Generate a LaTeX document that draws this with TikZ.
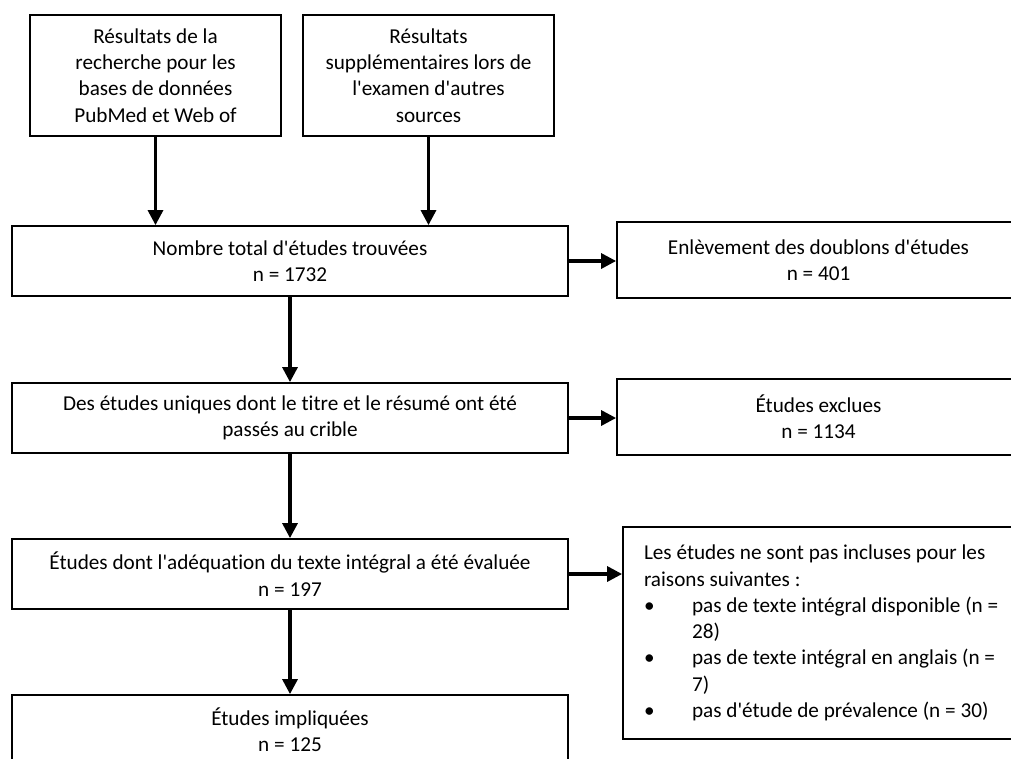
\documentclass[tikz,border=0pt]{standalone}
\usepackage{fontspec}
\setmainfont{Carlito}[Ligatures={TeXOff,NoCommon}]
\usetikzlibrary{arrows.meta}
\newcommand{\reason}[1]{\makebox[48pt][l]{\textbullet}#1}
\newcommand{\wrap}[1]{\hspace*{48pt}#1}

\begin{document}
\begin{tikzpicture}
[x=1pt,y=-1pt,
box/.style={draw,line width=1.8pt,align=center,inner sep=0pt,
  font=\fontsize{21.2}{26.3}\selectfont},
source/.style={box,minimum width=251,minimum height=121},
stage/.style={box,minimum width=556,minimum height=70},
removed/.style={box,minimum width=403,minimum height=76},
flow/.style={line width=3.2pt,-{Triangle[length=15pt,width=15pt]}}]

\useasboundingbox (0,0) rectangle (1011,758);
\clip (0,0) rectangle (1011,758);

\draw (155.5,75.5) node (search) [source]
  {R\'esultats de la\\recherche pour les\\bases de donn\'ees\\PubMed et Web of};
\draw (428.5,75.5) node (others) [source]
  {R\'esultats\\suppl\'ementaires lors de\\l'examen d'autres\\sources};

\draw (290,261) node (total) [stage]
  {Nombre total d'\'etudes trouv\'ees\\n = 1732};
\draw (818.5,260) node (doublons) [removed]
  {Enl\`evement des doublons d'\'etudes\\n = 401};

\draw (290,418) node (unique) [stage]
  {Des \'etudes uniques dont le titre et le r\'esum\'e ont \'et\'e\\pass\'es au crible};
\draw (818.5,417) node (exclues) [removed]
  {\'Etudes exclues\\n = 1134};

\draw (290,574) node (fulltext) [stage]
  {\'Etudes dont l'ad\'equation du texte int\'egral a \'et\'e \'evalu\'ee\\n = 197};
\draw (829,633) node (raisons) [box,align=flush left,text width=370,
    inner xsep=21pt,minimum height=212]
  {Les \'etudes ne sont pas incluses pour les\\
   raisons suivantes :\\
   \reason{pas de texte int\'egral disponible (n =}\\
   \wrap{28)}\\
   \reason{pas de texte int\'egral en anglais (n =}\\
   \wrap{7)}\\
   \reason{pas d'\'etude de pr\'evalence (n = 30)}};

\draw (290,730) node (impl) [stage]
  {\'Etudes impliqu\'ees\\n = 125};

% arrows
\draw [flow] (search) -- (search |- total.north);
\draw [flow] (others) -- (others |- total.north);
\draw [flow] (total) -- (unique);
\draw [flow] (unique) -- (fulltext);
\draw [flow] (fulltext) -- (impl);
\draw [flow] (total.east) -- (total.east -| doublons.west);
\draw [flow] (unique.east) -- (unique.east -| exclues.west);
\draw [flow] (fulltext.east) -- (fulltext.east -| raisons.west);
\end{tikzpicture}
\end{document}
